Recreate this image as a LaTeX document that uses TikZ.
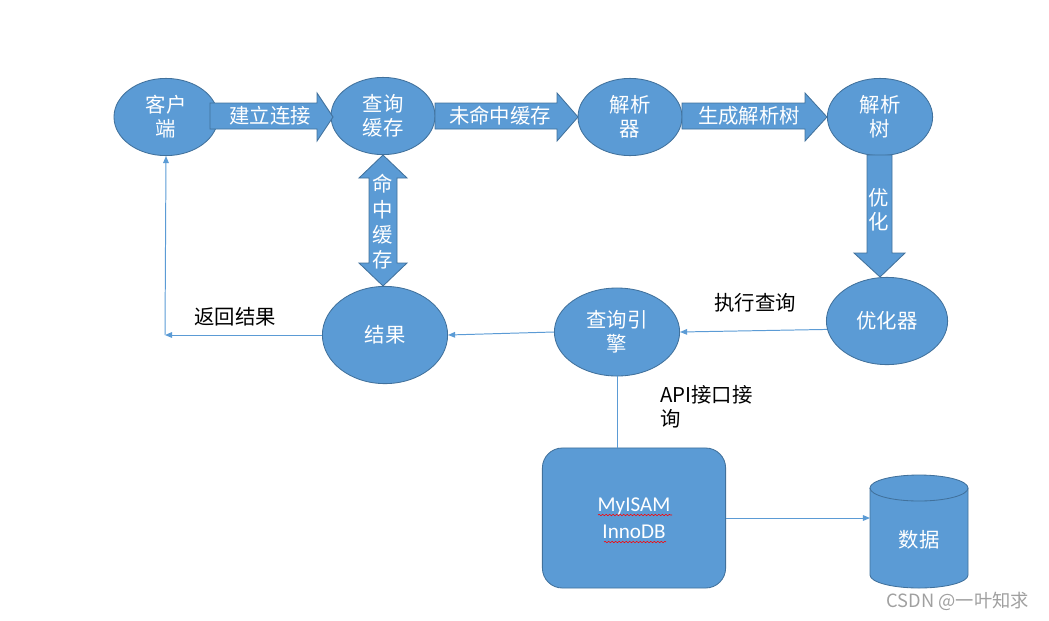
\documentclass[tikz,border=0pt]{standalone}
\usepackage{fontspec}
\setmainfont{Noto Sans CJK SC}
\newfontfamily\latinfont{Carlito}
\usetikzlibrary{shapes.geometric,arrows.meta,decorations.pathmorphing}
\definecolor{boxblue}{HTML}{5B9BD5}
\definecolor{edgeblue}{HTML}{41719C}
\definecolor{markgray}{HTML}{A0A0A0}
\begin{document}
\begin{tikzpicture}[x=0.025cm,y=-0.025cm,
	oval/.style={ellipse,fill=boxblue,draw=edgeblue,line width=0.6pt,inner sep=0pt,text=white,align=center,font=\fontsize{14.5}{17}\selectfont},
	fat/.style={fill=boxblue,draw=edgeblue,line width=0.6pt},
	fattext/.style={text=white,inner sep=0pt,font=\fontsize{14.5}{17}\selectfont},
	link/.style={draw=boxblue,line width=0.7pt,-{Triangle[length=5pt,width=4pt]}},
	note/.style={inner sep=0pt,font=\fontsize{14.5}{17}\selectfont},
	wavy/.style={red,line width=0.4pt,decorate,decoration={snake,amplitude=0.5pt,segment length=2.5pt}}]
				\useasboundingbox (0,0) rectangle (1049,620);
				\node[oval,minimum width=2.6cm,minimum height=1.93cm] (client) at (166,117) {客户\\端};
				\node[oval,minimum width=2.6cm,minimum height=1.93cm] (cache) at (383,116) {查询\\缓存};
				\node[oval,minimum width=2.6cm,minimum height=1.93cm] (parser) at (630,117) {解析\\器};
				\node[oval,minimum width=2.63cm,minimum height=1.93cm] (tree) at (880,117) {解析\\树};
				\node[oval,minimum width=3.03cm,minimum height=2.18cm] (opt) at (887,321) {优化器};
				\node[oval,minimum width=3.13cm,minimum height=2.2cm] (engine) at (617,332) {查询引\\擎};
				\node[oval,minimum width=3.13cm,minimum height=2.43cm] (result) at (385,335) {结果};
				\node[fat,rounded corners=0.5cm,minimum width=4.58cm,minimum height=3.5cm,text=white,align=center,font=\latinfont\fontsize{15}{19}\selectfont] (store) at (634,518) {MyISAM\\InnoDB};
				\draw[wavy] (598,515) -- (672,515);
				\draw[wavy] (604,542) -- (666,542);
				\filldraw[fat] (870,488) -- (870,575) arc (180:360:1.225cm and 0.325cm) -- (968,488) arc (0:180:1.225cm and 0.325cm) -- cycle;
				\draw[draw=edgeblue,line width=0.6pt] (870,488) arc (180:360:1.225cm and 0.325cm);
				\node[fattext] (data) at (919,540) {数据};
				\coordinate (datal) at (870,518);
				\filldraw[fat] (210,103) -- (317,103) -- (317,93) -- (333,117) -- (317,141) -- (317,129) -- (210,129) -- cycle;
				\node[fattext] (lconn) at (270,116) {建立连接};
				\filldraw[fat] (435,103) -- (557,103) -- (557,93) -- (578,117) -- (557,141) -- (557,129) -- (435,129) -- cycle;
				\node[fattext] (lmiss) at (500,116) {未命中缓存};
				\filldraw[fat] (682,103) -- (805,103) -- (805,93) -- (827,117) -- (805,141) -- (805,129) -- (682,129) -- cycle;
				\node[fattext] (lgen) at (749,116) {生成解析树};
				\filldraw[fat] (867,155) -- (892,155) -- (892,253) -- (905,253) -- (880,277) -- (854,253) -- (867,253) -- cycle;
				\node[fattext,align=center] (lopt) at (879,210) {优\\化};
				\filldraw[fat] (383,155) -- (407,178) -- (397,178) -- (397,263) -- (407,263) -- (383,286) -- (359,263) -- (369,263) -- (369,178) -- (359,178) -- cycle;
				\node[fattext,align=center,font=\fontsize{14.5}{18}\selectfont] (lhit) at (383,222) {命\\中\\缓\\存};
				\coordinate (corner) at (165,335);
				\draw[link] (result.west) -- (corner);
				\draw[link] (corner) -- (client.south);
				\draw[link] (engine.west) -- (result.east);
				\draw[link] (opt.188) -- (engine.east);
				\draw[draw=boxblue,line width=0.7pt] (engine.south) -- (engine.south |- store.north);
				\draw[link] (store.east) -- (datal);
				\node[note] (lback) at (235,317) {返回结果};
				\node[note] (lexec) at (755,303) {执行查询};
				\node[note,align=left,anchor=west] (lapi) at (660,407) {API接口接\\询};
				\node[text=markgray,anchor=east,font=\fontsize{13}{15}\selectfont] (mark) at (1034,601) {CSDN @一叶知求};
\end{tikzpicture}
\end{document}
